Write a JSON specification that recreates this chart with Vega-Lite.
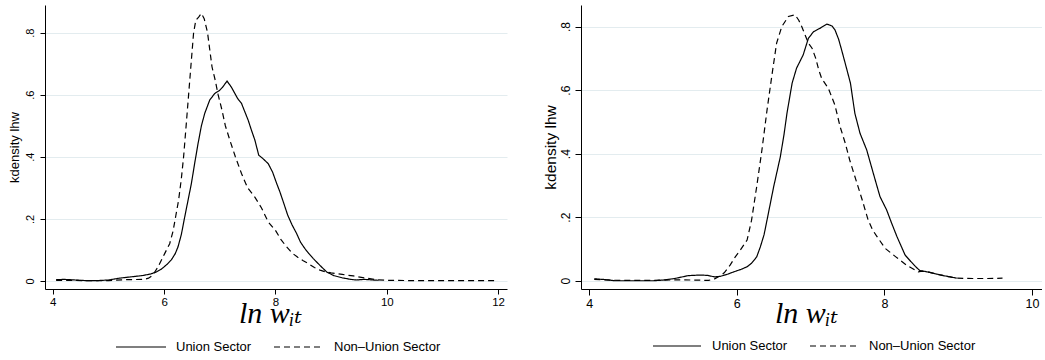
{
  "$schema": "https://vega.github.io/schema/vega-lite/v6.json",
  "background": "white",
  "padding": {"left": 8, "top": 5, "right": 0, "bottom": 0},
  "spacing": 36,
  "config": {
    "view": {"stroke": null},
    "axis": {"domainColor": "black", "domainWidth": 1, "tickColor": "black", "tickWidth": 1, "labelColor": "black", "titleColor": "black", "labelFont": "Liberation Sans", "titleFont": "Liberation Sans", "titleFontWeight": "normal"},
    "legend": {"labelFont": "Liberation Sans", "labelColor": "black"}
  },
  "datasets": {
    "left": [
      {"s": "Union Sector", "x": 4.06, "y": 0.004}, {"s": "Union Sector", "x": 4.2, "y": 0.005}, {"s": "Union Sector", "x": 4.4, "y": 0.003}, {"s": "Union Sector", "x": 4.6, "y": 0.001}, {"s": "Union Sector", "x": 4.8, "y": 0.001}, {"s": "Union Sector", "x": 5.0, "y": 0.003}, {"s": "Union Sector", "x": 5.2, "y": 0.009}, {"s": "Union Sector", "x": 5.4, "y": 0.013}, {"s": "Union Sector", "x": 5.6, "y": 0.017}, {"s": "Union Sector", "x": 5.75, "y": 0.022}, {"s": "Union Sector", "x": 5.85, "y": 0.028}, {"s": "Union Sector", "x": 5.95, "y": 0.038}, {"s": "Union Sector", "x": 6.05, "y": 0.053}, {"s": "Union Sector", "x": 6.13, "y": 0.068}, {"s": "Union Sector", "x": 6.2, "y": 0.088}, {"s": "Union Sector", "x": 6.25, "y": 0.11}, {"s": "Union Sector", "x": 6.31, "y": 0.15}, {"s": "Union Sector", "x": 6.37, "y": 0.206}, {"s": "Union Sector", "x": 6.43, "y": 0.26}, {"s": "Union Sector", "x": 6.49, "y": 0.314}, {"s": "Union Sector", "x": 6.55, "y": 0.38}, {"s": "Union Sector", "x": 6.61, "y": 0.443}, {"s": "Union Sector", "x": 6.67, "y": 0.5}, {"s": "Union Sector", "x": 6.73, "y": 0.54}, {"s": "Union Sector", "x": 6.82, "y": 0.583}, {"s": "Union Sector", "x": 6.91, "y": 0.604}, {"s": "Union Sector", "x": 6.99, "y": 0.613}, {"s": "Union Sector", "x": 7.05, "y": 0.624}, {"s": "Union Sector", "x": 7.13, "y": 0.644}, {"s": "Union Sector", "x": 7.21, "y": 0.624}, {"s": "Union Sector", "x": 7.32, "y": 0.588}, {"s": "Union Sector", "x": 7.39, "y": 0.572}, {"s": "Union Sector", "x": 7.45, "y": 0.545}, {"s": "Union Sector", "x": 7.51, "y": 0.518}, {"s": "Union Sector", "x": 7.57, "y": 0.485}, {"s": "Union Sector", "x": 7.63, "y": 0.454}, {"s": "Union Sector", "x": 7.7, "y": 0.405}, {"s": "Union Sector", "x": 7.77, "y": 0.395}, {"s": "Union Sector", "x": 7.87, "y": 0.378}, {"s": "Union Sector", "x": 7.95, "y": 0.35}, {"s": "Union Sector", "x": 8.02, "y": 0.315}, {"s": "Union Sector", "x": 8.08, "y": 0.287}, {"s": "Union Sector", "x": 8.15, "y": 0.25}, {"s": "Union Sector", "x": 8.22, "y": 0.212}, {"s": "Union Sector", "x": 8.3, "y": 0.18}, {"s": "Union Sector", "x": 8.38, "y": 0.153}, {"s": "Union Sector", "x": 8.45, "y": 0.125}, {"s": "Union Sector", "x": 8.53, "y": 0.104}, {"s": "Union Sector", "x": 8.6, "y": 0.088}, {"s": "Union Sector", "x": 8.68, "y": 0.072}, {"s": "Union Sector", "x": 8.8, "y": 0.05}, {"s": "Union Sector", "x": 8.92, "y": 0.029}, {"s": "Union Sector", "x": 9.05, "y": 0.017}, {"s": "Union Sector", "x": 9.2, "y": 0.01}, {"s": "Union Sector", "x": 9.35, "y": 0.005}, {"s": "Union Sector", "x": 9.45, "y": 0.003}, {"s": "Union Sector", "x": 9.6, "y": 0.005}, {"s": "Union Sector", "x": 9.75, "y": 0.003}, {"s": "Union Sector", "x": 9.85, "y": 0.002},
      {"s": "Non–Union Sector", "x": 4.06, "y": 0.002}, {"s": "Non–Union Sector", "x": 4.3, "y": 0.002}, {"s": "Non–Union Sector", "x": 4.6, "y": 0.001}, {"s": "Non–Union Sector", "x": 5.0, "y": 0.001}, {"s": "Non–Union Sector", "x": 5.3, "y": 0.004}, {"s": "Non–Union Sector", "x": 5.65, "y": 0.005}, {"s": "Non–Union Sector", "x": 5.72, "y": 0.009}, {"s": "Non–Union Sector", "x": 5.77, "y": 0.015}, {"s": "Non–Union Sector", "x": 5.83, "y": 0.028}, {"s": "Non–Union Sector", "x": 5.89, "y": 0.045}, {"s": "Non–Union Sector", "x": 6.01, "y": 0.088}, {"s": "Non–Union Sector", "x": 6.1, "y": 0.12}, {"s": "Non–Union Sector", "x": 6.16, "y": 0.16}, {"s": "Non–Union Sector", "x": 6.21, "y": 0.21}, {"s": "Non–Union Sector", "x": 6.26, "y": 0.26}, {"s": "Non–Union Sector", "x": 6.31, "y": 0.33}, {"s": "Non–Union Sector", "x": 6.35, "y": 0.4}, {"s": "Non–Union Sector", "x": 6.4, "y": 0.51}, {"s": "Non–Union Sector", "x": 6.44, "y": 0.6}, {"s": "Non–Union Sector", "x": 6.48, "y": 0.69}, {"s": "Non–Union Sector", "x": 6.53, "y": 0.8}, {"s": "Non–Union Sector", "x": 6.57, "y": 0.84}, {"s": "Non–Union Sector", "x": 6.62, "y": 0.85}, {"s": "Non–Union Sector", "x": 6.67, "y": 0.862}, {"s": "Non–Union Sector", "x": 6.72, "y": 0.845}, {"s": "Non–Union Sector", "x": 6.78, "y": 0.8}, {"s": "Non–Union Sector", "x": 6.86, "y": 0.69}, {"s": "Non–Union Sector", "x": 6.92, "y": 0.645}, {"s": "Non–Union Sector", "x": 6.97, "y": 0.6}, {"s": "Non–Union Sector", "x": 7.04, "y": 0.55}, {"s": "Non–Union Sector", "x": 7.1, "y": 0.5}, {"s": "Non–Union Sector", "x": 7.18, "y": 0.454}, {"s": "Non–Union Sector", "x": 7.28, "y": 0.4}, {"s": "Non–Union Sector", "x": 7.39, "y": 0.346}, {"s": "Non–Union Sector", "x": 7.5, "y": 0.3}, {"s": "Non–Union Sector", "x": 7.63, "y": 0.27}, {"s": "Non–Union Sector", "x": 7.75, "y": 0.235}, {"s": "Non–Union Sector", "x": 7.87, "y": 0.19}, {"s": "Non–Union Sector", "x": 8.0, "y": 0.163}, {"s": "Non–Union Sector", "x": 8.1, "y": 0.133}, {"s": "Non–Union Sector", "x": 8.2, "y": 0.11}, {"s": "Non–Union Sector", "x": 8.3, "y": 0.09}, {"s": "Non–Union Sector", "x": 8.4, "y": 0.076}, {"s": "Non–Union Sector", "x": 8.5, "y": 0.065}, {"s": "Non–Union Sector", "x": 8.6, "y": 0.055}, {"s": "Non–Union Sector", "x": 8.7, "y": 0.043}, {"s": "Non–Union Sector", "x": 8.8, "y": 0.035}, {"s": "Non–Union Sector", "x": 8.9, "y": 0.029}, {"s": "Non–Union Sector", "x": 9.0, "y": 0.026}, {"s": "Non–Union Sector", "x": 9.2, "y": 0.021}, {"s": "Non–Union Sector", "x": 9.4, "y": 0.016}, {"s": "Non–Union Sector", "x": 9.6, "y": 0.01}, {"s": "Non–Union Sector", "x": 9.8, "y": 0.004}, {"s": "Non–Union Sector", "x": 10.0, "y": 0.002}, {"s": "Non–Union Sector", "x": 10.5, "y": 0.001}, {"s": "Non–Union Sector", "x": 11.0, "y": 0.001}, {"s": "Non–Union Sector", "x": 11.5, "y": 0.001}, {"s": "Non–Union Sector", "x": 12.0, "y": 0.001}
    ],
    "right": [
      {"s": "Union Sector", "x": 4.07, "y": 0.006}, {"s": "Union Sector", "x": 4.2, "y": 0.004}, {"s": "Union Sector", "x": 4.35, "y": 0.0}, {"s": "Union Sector", "x": 4.6, "y": 0.0}, {"s": "Union Sector", "x": 4.87, "y": 0.0}, {"s": "Union Sector", "x": 5.0, "y": 0.002}, {"s": "Union Sector", "x": 5.16, "y": 0.007}, {"s": "Union Sector", "x": 5.34, "y": 0.016}, {"s": "Union Sector", "x": 5.5, "y": 0.018}, {"s": "Union Sector", "x": 5.6, "y": 0.017}, {"s": "Union Sector", "x": 5.7, "y": 0.012}, {"s": "Union Sector", "x": 5.78, "y": 0.014}, {"s": "Union Sector", "x": 5.88, "y": 0.021}, {"s": "Union Sector", "x": 5.96, "y": 0.028}, {"s": "Union Sector", "x": 6.06, "y": 0.036}, {"s": "Union Sector", "x": 6.14, "y": 0.044}, {"s": "Union Sector", "x": 6.2, "y": 0.055}, {"s": "Union Sector", "x": 6.27, "y": 0.075}, {"s": "Union Sector", "x": 6.32, "y": 0.107}, {"s": "Union Sector", "x": 6.37, "y": 0.145}, {"s": "Union Sector", "x": 6.41, "y": 0.191}, {"s": "Union Sector", "x": 6.5, "y": 0.296}, {"s": "Union Sector", "x": 6.59, "y": 0.39}, {"s": "Union Sector", "x": 6.64, "y": 0.46}, {"s": "Union Sector", "x": 6.68, "y": 0.527}, {"s": "Union Sector", "x": 6.75, "y": 0.622}, {"s": "Union Sector", "x": 6.81, "y": 0.669}, {"s": "Union Sector", "x": 6.9, "y": 0.711}, {"s": "Union Sector", "x": 6.97, "y": 0.763}, {"s": "Union Sector", "x": 7.04, "y": 0.784}, {"s": "Union Sector", "x": 7.13, "y": 0.795}, {"s": "Union Sector", "x": 7.22, "y": 0.808}, {"s": "Union Sector", "x": 7.29, "y": 0.802}, {"s": "Union Sector", "x": 7.33, "y": 0.79}, {"s": "Union Sector", "x": 7.38, "y": 0.76}, {"s": "Union Sector", "x": 7.42, "y": 0.727}, {"s": "Union Sector", "x": 7.48, "y": 0.675}, {"s": "Union Sector", "x": 7.54, "y": 0.622}, {"s": "Union Sector", "x": 7.6, "y": 0.527}, {"s": "Union Sector", "x": 7.67, "y": 0.464}, {"s": "Union Sector", "x": 7.76, "y": 0.412}, {"s": "Union Sector", "x": 7.85, "y": 0.338}, {"s": "Union Sector", "x": 7.94, "y": 0.265}, {"s": "Union Sector", "x": 8.03, "y": 0.223}, {"s": "Union Sector", "x": 8.1, "y": 0.18}, {"s": "Union Sector", "x": 8.17, "y": 0.139}, {"s": "Union Sector", "x": 8.28, "y": 0.081}, {"s": "Union Sector", "x": 8.36, "y": 0.06}, {"s": "Union Sector", "x": 8.42, "y": 0.045}, {"s": "Union Sector", "x": 8.48, "y": 0.032}, {"s": "Union Sector", "x": 8.51, "y": 0.031}, {"s": "Union Sector", "x": 8.6, "y": 0.027}, {"s": "Union Sector", "x": 8.69, "y": 0.022}, {"s": "Union Sector", "x": 8.8, "y": 0.016}, {"s": "Union Sector", "x": 8.87, "y": 0.013}, {"s": "Union Sector", "x": 8.98, "y": 0.008},
      {"s": "Non–Union Sector", "x": 4.07, "y": 0.004}, {"s": "Non–Union Sector", "x": 4.4, "y": 0.001}, {"s": "Non–Union Sector", "x": 4.8, "y": 0.001}, {"s": "Non–Union Sector", "x": 5.0, "y": 0.002}, {"s": "Non–Union Sector", "x": 5.25, "y": 0.003}, {"s": "Non–Union Sector", "x": 5.45, "y": 0.002}, {"s": "Non–Union Sector", "x": 5.62, "y": 0.001}, {"s": "Non–Union Sector", "x": 5.7, "y": 0.006}, {"s": "Non–Union Sector", "x": 5.77, "y": 0.015}, {"s": "Non–Union Sector", "x": 5.83, "y": 0.025}, {"s": "Non–Union Sector", "x": 5.91, "y": 0.049}, {"s": "Non–Union Sector", "x": 5.98, "y": 0.075}, {"s": "Non–Union Sector", "x": 6.05, "y": 0.097}, {"s": "Non–Union Sector", "x": 6.14, "y": 0.128}, {"s": "Non–Union Sector", "x": 6.2, "y": 0.19}, {"s": "Non–Union Sector", "x": 6.27, "y": 0.296}, {"s": "Non–Union Sector", "x": 6.34, "y": 0.41}, {"s": "Non–Union Sector", "x": 6.41, "y": 0.537}, {"s": "Non–Union Sector", "x": 6.48, "y": 0.653}, {"s": "Non–Union Sector", "x": 6.54, "y": 0.748}, {"s": "Non–Union Sector", "x": 6.61, "y": 0.8}, {"s": "Non–Union Sector", "x": 6.7, "y": 0.832}, {"s": "Non–Union Sector", "x": 6.79, "y": 0.837}, {"s": "Non–Union Sector", "x": 6.84, "y": 0.82}, {"s": "Non–Union Sector", "x": 6.88, "y": 0.8}, {"s": "Non–Union Sector", "x": 6.97, "y": 0.748}, {"s": "Non–Union Sector", "x": 7.02, "y": 0.732}, {"s": "Non–Union Sector", "x": 7.07, "y": 0.7}, {"s": "Non–Union Sector", "x": 7.11, "y": 0.664}, {"s": "Non–Union Sector", "x": 7.15, "y": 0.637}, {"s": "Non–Union Sector", "x": 7.24, "y": 0.606}, {"s": "Non–Union Sector", "x": 7.33, "y": 0.553}, {"s": "Non–Union Sector", "x": 7.4, "y": 0.485}, {"s": "Non–Union Sector", "x": 7.47, "y": 0.433}, {"s": "Non–Union Sector", "x": 7.53, "y": 0.38}, {"s": "Non–Union Sector", "x": 7.6, "y": 0.328}, {"s": "Non–Union Sector", "x": 7.7, "y": 0.254}, {"s": "Non–Union Sector", "x": 7.78, "y": 0.191}, {"s": "Non–Union Sector", "x": 7.84, "y": 0.16}, {"s": "Non–Union Sector", "x": 7.9, "y": 0.139}, {"s": "Non–Union Sector", "x": 8.01, "y": 0.102}, {"s": "Non–Union Sector", "x": 8.15, "y": 0.076}, {"s": "Non–Union Sector", "x": 8.3, "y": 0.049}, {"s": "Non–Union Sector", "x": 8.46, "y": 0.028}, {"s": "Non–Union Sector", "x": 8.51, "y": 0.03}, {"s": "Non–Union Sector", "x": 8.6, "y": 0.027}, {"s": "Non–Union Sector", "x": 8.69, "y": 0.022}, {"s": "Non–Union Sector", "x": 8.8, "y": 0.016}, {"s": "Non–Union Sector", "x": 8.87, "y": 0.013}, {"s": "Non–Union Sector", "x": 8.98, "y": 0.008}, {"s": "Non–Union Sector", "x": 9.2, "y": 0.007}, {"s": "Non–Union Sector", "x": 9.4, "y": 0.007}, {"s": "Non–Union Sector", "x": 9.6, "y": 0.008}
    ]
  },
  "hconcat": [
    {
      "width": 462,
      "height": 284,
      "data": {"name": "left"},
      "mark": {"type": "line", "color": "black", "strokeWidth": 1.2},
      "encoding": {
        "x": {"field": "x", "type": "quantitative", "scale": {"domain": [3.86, 12.16], "nice": false, "zero": false},
          "axis": {"values": [4, 6, 8, 10, 12], "title": "ln wᵢₜ", "titleFont": "Liberation Serif, DejaVu Serif", "titleFontStyle": "italic", "titleFontSize": 30, "titleFontWeight": "normal", "titleX": 225, "titleY": 33, "titleBaseline": "alphabetic", "titleAlign": "center", "labelFontSize": 11.5, "tickSize": 5, "labelPadding": 2, "grid": false}},
        "y": {"field": "y", "type": "quantitative", "scale": {"domain": [-0.026, 0.889], "nice": false, "zero": false},
          "axis": {"values": [0, 0.2, 0.4, 0.6, 0.8], "labelExpr": "datum.value == 0 ? '0' : replace(format(datum.value, '.1f'), '0.', '.')", "title": "kdensity lhw", "titleFontSize": 13, "titlePadding": 3, "labelAngle": -90, "labelAlign": "center", "labelBaseline": "alphabetic", "labelFontSize": 11, "labelPadding": 7, "tickSize": 5, "grid": true, "gridColor": "#e3ecef", "gridWidth": 1}},
        "strokeDash": {"field": "s", "type": "nominal", "scale": {"domain": ["Union Sector", "Non–Union Sector"], "range": [[1, 0], [6, 4]]},
          "legend": {"orient": "none", "legendX": 70, "legendY": 316, "direction": "horizontal", "title": null, "symbolType": "stroke", "symbolSize": 2500, "symbolStrokeWidth": 1.2, "symbolStrokeColor": "black", "labelFontSize": 13, "labelOffset": 9, "columnPadding": 19}}
      }
    },
    {
      "width": 461,
      "height": 284,
      "data": {"name": "right"},
      "mark": {"type": "line", "color": "black", "strokeWidth": 1.2},
      "encoding": {
        "x": {"field": "x", "type": "quantitative", "scale": {"domain": [3.89, 10.135], "nice": false, "zero": false},
          "axis": {"values": [4, 6, 8, 10], "title": "ln wᵢₜ", "titleFont": "Liberation Serif, DejaVu Serif", "titleFontStyle": "italic", "titleFontSize": 30, "titleFontWeight": "normal", "titleX": 225, "titleY": 33, "titleBaseline": "alphabetic", "titleAlign": "center", "labelFontSize": 12.5, "tickSize": 6, "labelPadding": 2, "grid": false}},
        "y": {"field": "y", "type": "quantitative", "scale": {"domain": [-0.026, 0.868], "nice": false, "zero": false},
          "axis": {"values": [0, 0.2, 0.4, 0.6, 0.8], "labelExpr": "datum.value == 0 ? '0' : replace(format(datum.value, '.1f'), '0.', '.')", "title": "kdensity lhw", "titleFontSize": 15.5, "titlePadding": 1, "labelAngle": -90, "labelAlign": "center", "labelBaseline": "alphabetic", "labelFontSize": 12, "labelPadding": 6, "tickSize": 6, "grid": true, "gridColor": "#e3ecef", "gridWidth": 1}},
        "strokeDash": {"field": "s", "type": "nominal", "scale": {"domain": ["Union Sector", "Non–Union Sector"], "range": [[1, 0], [6, 4]]},
          "legend": {"orient": "none", "legendX": 71, "legendY": 316, "direction": "horizontal", "title": null, "symbolType": "stroke", "symbolSize": 2304, "symbolStrokeWidth": 1.2, "symbolStrokeColor": "black", "labelFontSize": 13, "labelOffset": 10, "columnPadding": 19}}
      }
    }
  ],
  "resolve": {"scale": {"strokeDash": "independent"}, "legend": {"strokeDash": "independent"}}
}
